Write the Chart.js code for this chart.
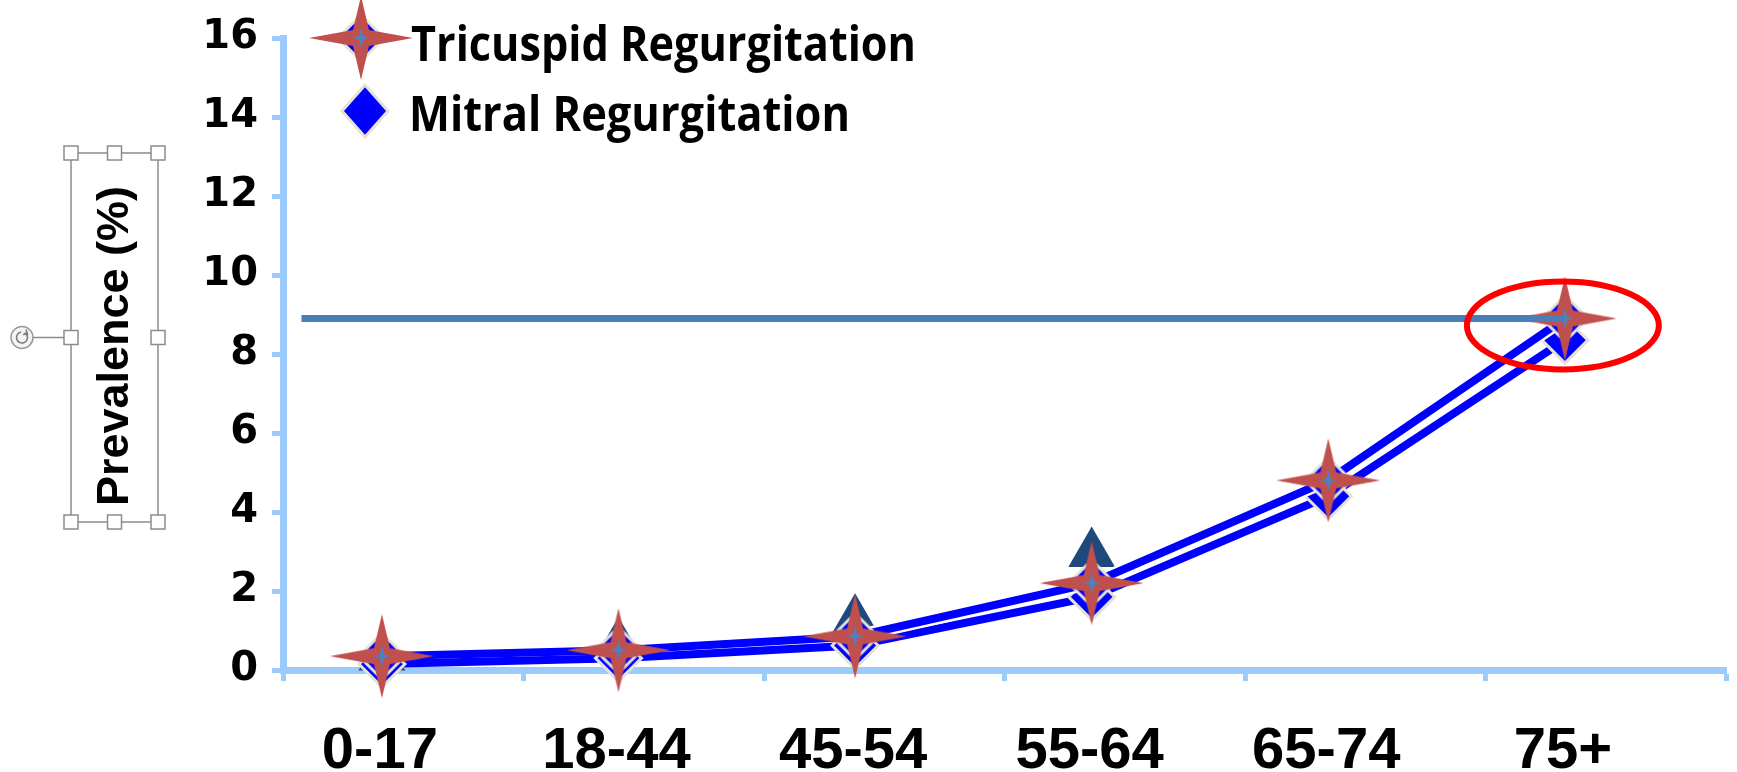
<!DOCTYPE html>
<html>
<head>
<meta charset="utf-8">
<script src="https://cdn.jsdelivr.net/npm/chart.js@4.4.1/dist/chart.umd.min.js"></script>
<style>
  html, body { margin: 0; padding: 0; background: #ffffff; overflow: hidden; }
  #wrap { position: relative; width: 1737px; height: 772px; }
</style>
</head>
<body>
<div id="wrap"><canvas id="chart" width="1737" height="772"></canvas></div>
<script>
// Age groups and prevalence (%) of each regurgitation type
const categories = ['0-17', '18-44', '45-54', '55-64', '65-74', '75+'];
const tricuspid = [0.35, 0.5, 0.85, 2.2, 4.8, 8.9];
const mitral = [0.15, 0.3, 0.62, 1.85, 4.4, 8.35];
const aortic = [0.33, 0.66, 1.26, 2.95, null, null];
const yTicks = [0, 2, 4, 6, 8, 10, 12, 14, 16];
const seriesNames = ['Tricuspid Regurgitation', 'Mitral Regurgitation'];
const yTitle = 'Prevalence (%)';

// axis geometry
const X_MIN = -0.418, X_MAX = 5.681;
const GUIDE_START = -0.34;
const AXIS_BLUE = '#9BCBFA';
const LINE_BLUE = '#0000FF';
const DIAMOND_EDGE = '#E4E2D6';

const toXY = arr => arr.map((v, i) => ({ x: i, y: v }));
// the white edging only shows once the two curves separate
const edgeColor = c => (c.p0DataIndex < 2 ? 'rgba(255,255,255,0)' : '#FFFFFF');

// four-pointed star
function drawStar(ctx, cx, cy, rx, ry, ri, color) {
  ctx.beginPath();
  ctx.moveTo(cx, cy - ry);
  ctx.lineTo(cx + ri, cy - ri);
  ctx.lineTo(cx + rx, cy);
  ctx.lineTo(cx + ri, cy + ri);
  ctx.lineTo(cx, cy + ry);
  ctx.lineTo(cx - ri, cy + ri);
  ctx.lineTo(cx - rx, cy);
  ctx.lineTo(cx - ri, cy - ri);
  ctx.closePath();
  ctx.fillStyle = color;
  ctx.fill();
}
function drawDiamond(ctx, cx, cy, rx, ry) {
  ctx.beginPath();
  ctx.moveTo(cx - rx, cy);
  ctx.lineTo(cx, cy - ry);
  ctx.lineTo(cx + rx, cy);
  ctx.lineTo(cx, cy + ry);
  ctx.closePath();
  ctx.fillStyle = LINE_BLUE;
  ctx.fill();
  ctx.lineWidth = 3;
  ctx.strokeStyle = DIAMOND_EDGE;
  ctx.stroke();
}
// tricuspid marker: blue diamond under a red star with a small blue star at its centre
function makeTricuspidMarker() {
  const c = document.createElement('canvas');
  c.width = 108; c.height = 90;
  const g = c.getContext('2d');
  drawDiamond(g, 54, 45, 23, 23);
  drawStar(g, 54, 45, 52, 42, 8, '#C0504D');
  drawStar(g, 54, 45, 8, 11, 2, '#4F81BD');
  return c;
}
const tricuspidMarker = makeTricuspidMarker();

// legend, selection frame around the axis title and the highlight ellipse
const overlay = {
  id: 'overlay',
  afterDatasetsDraw(chart) {
    const ctx = chart.ctx;
    const xs = chart.scales.x, ys = chart.scales.y;
    const last = tricuspid.length - 1;
    const px = xs.getPixelForValue(last), py = ys.getPixelForValue(tricuspid[last]);
    ctx.save();
    ctx.beginPath();
    ctx.ellipse(px - 2, py + 7, 96, 44, 0, 0, Math.PI * 2);
    ctx.lineWidth = 6;
    ctx.strokeStyle = '#FF0000';
    ctx.stroke();
    ctx.restore();
  },
  afterDraw(chart) {
    const ctx = chart.ctx;
    ctx.save();
    // legend
    ctx.drawImage(tricuspidMarker, 361 - 54, 38 - 45);
    drawDiamond(ctx, 365, 111, 23, 26);
    ctx.fillStyle = '#000000';
    ctx.font = 'bold 48px "Open Sans"';
    ctx.textBaseline = 'alphabetic';
    ctx.textAlign = 'left';
    ctx.fillText(seriesNames[0], 411, 61, 505);
    ctx.fillText(seriesNames[1], 409, 131, 441);

    // axis title
    ctx.save();
    ctx.translate(116, 346);
    ctx.rotate(-Math.PI / 2);
    ctx.textAlign = 'center';
    ctx.textBaseline = 'middle';
    ctx.font = 'bold 45px "Liberation Sans"';
    ctx.fillText(yTitle, 0, 0);
    ctx.restore();

    // selection frame
    const L = 71, R = 158, T = 153, B = 522, M = (T + B) / 2, C = (L + R) / 2;
    ctx.strokeStyle = '#8C8C8C';
    ctx.lineWidth = 1.5;
    ctx.strokeRect(L, T, R - L, B - T);
    ctx.beginPath();
    ctx.moveTo(22 + 11, M); ctx.lineTo(L, M);
    ctx.stroke();
    const handles = [[L, T], [C, T], [R, T], [L, M], [R, M], [L, B], [C, B], [R, B]];
    handles.forEach(([hx, hy]) => {
      ctx.fillStyle = '#FFFFFF';
      ctx.fillRect(hx - 7, hy - 7, 14, 14);
      ctx.strokeStyle = '#8C8C8C';
      ctx.strokeRect(hx - 7, hy - 7, 14, 14);
    });
    // rotation handle
    ctx.beginPath();
    ctx.arc(22, M, 11, 0, Math.PI * 2);
    ctx.fillStyle = '#F4F4F4';
    ctx.fill();
    ctx.strokeStyle = '#9A9A9A';
    ctx.stroke();
    ctx.beginPath();
    ctx.arc(22, M, 5.5, -Math.PI * 0.35, Math.PI * 1.45);
    ctx.strokeStyle = '#7A7A7A';
    ctx.lineWidth = 1.6;
    ctx.stroke();
    ctx.beginPath();
    ctx.moveTo(26, M - 8); ctx.lineTo(27.5, M - 3.5); ctx.lineTo(23, M - 3);
    ctx.stroke();
    ctx.restore();
  }
};

new Chart(document.getElementById('chart'), {
  type: 'line',
  data: {
    datasets: [
      {
        label: 'guide',
        data: [{ x: GUIDE_START, y: tricuspid[tricuspid.length - 1] }, { x: tricuspid.length - 1, y: tricuspid[tricuspid.length - 1] }],
        borderColor: '#4A7EBB', borderWidth: 7, pointRadius: 0, order: 1, clip: false
      },
      {
        label: seriesNames[0],
        data: toXY(tricuspid),
        borderColor: LINE_BLUE, borderWidth: 8,
        pointStyle: tricuspidMarker, pointRadius: 20,
        order: 2, clip: false
      },
      {
        label: 'tricuspid edge',
        data: toXY(tricuspid),
        borderColor: '#FFFFFF', borderWidth: 13, pointRadius: 0,
        segment: { borderColor: edgeColor },
        order: 3, clip: false
      },
      {
        label: seriesNames[1],
        data: toXY(mitral),
        borderColor: LINE_BLUE, borderWidth: 8,
        pointStyle: 'rectRot', pointRadius: 23,
        pointBackgroundColor: LINE_BLUE, pointBorderColor: DIAMOND_EDGE, pointBorderWidth: 3,
        order: 4, clip: false
      },
      {
        label: 'mitral edge',
        data: toXY(mitral),
        borderColor: '#FFFFFF', borderWidth: 13, pointRadius: 0,
        segment: { borderColor: edgeColor },
        order: 5, clip: false
      },
      {
        label: 'Aortic',
        data: toXY(aortic),
        showLine: false,
        pointStyle: 'triangle', pointRadius: 27,
        pointBackgroundColor: '#1F497D', pointBorderWidth: 0,
        order: 6, clip: false
      }
    ]
  },
  options: {
    responsive: false,
    animation: false,
    devicePixelRatio: 1,
    layout: { autoPadding: false, padding: { top: 37, right: 11, left: 0, bottom: 0 } },
    plugins: { legend: { display: false }, tooltip: { enabled: false } },
    elements: { line: { tension: 0, borderCapStyle: 'butt', borderJoinStyle: 'miter' } },
    scales: {
      y: {
        type: 'linear', min: 0, max: 16,
        afterBuildTicks: s => { s.ticks = yTicks.map(v => ({ value: v })); },
        afterFit: s => { s.width = 283; },
        ticks: { color: '#000000', font: { family: 'DejaVu Sans', size: 40, weight: 'bold' }, padding: 14 },
        grid: { drawOnChartArea: false, tickLength: 11, tickWidth: 5, tickColor: AXIS_BLUE },
        border: { color: AXIS_BLUE, width: 7 }
      },
      x: {
        type: 'linear', position: 'bottom', min: X_MIN, max: X_MAX, weight: 0,
        afterBuildTicks: s => {
          const n = categories.length;
          s.ticks = Array.from({ length: n + 1 }, (_, k) => ({ value: X_MIN + k * (X_MAX - X_MIN) / n }));
        },
        afterFit: s => { s.height = 12; s.paddingLeft = 0; s.paddingRight = 0; },
        ticks: { display: false },
        grid: { drawOnChartArea: false, tickLength: 11, tickWidth: 5, tickColor: AXIS_BLUE },
        border: { color: AXIS_BLUE, width: 7 }
      },
      xLabels: {
        type: 'linear', position: 'bottom', min: X_MIN, max: X_MAX, weight: 1,
        afterBuildTicks: s => { s.ticks = categories.map((_, i) => ({ value: i })); },
        afterFit: s => { s.height = 90; s.paddingLeft = 0; s.paddingRight = 0; },
        ticks: {
          autoSkip: false, maxRotation: 0, color: '#000000',
          font: { family: 'Liberation Sans', size: 58, weight: 'bold' },
          padding: 27, labelOffset: -2,
          callback: v => categories[v] ?? ''
        },
        grid: { display: false },
        border: { display: false }
      }
    }
  },
  plugins: [overlay]
});
</script>
</body>
</html>
